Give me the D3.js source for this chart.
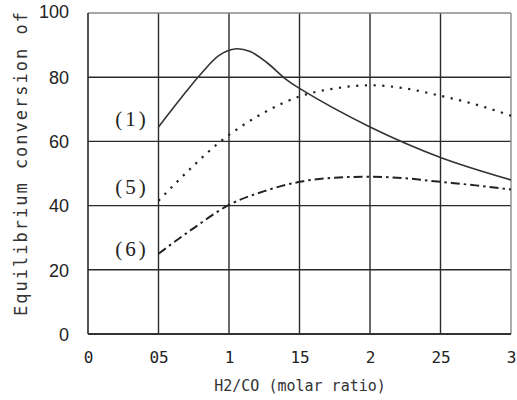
<!DOCTYPE html>
<html>
<head>
<meta charset="utf-8">
<script src="https://cdn.jsdelivr.net/npm/d3@7"></script>
<style>
  html, body { margin: 0; padding: 0; background: #fff; }
  svg { display: block; }
</style>
</head>
<body>
<svg id="chart" width="517" height="400"></svg>
<script>
// H2/CO molar ratio sampled along each curve
const ratio1 = [0.5, 0.66, 0.8, 0.93, 1.04, 1.15, 1.27, 1.4, 1.5, 2.0, 2.5, 3.0];
const conv1  = [64.5, 73.5, 81, 86.8, 88.8, 88, 84.5, 79.5, 76.5, 64.5, 55, 48];

const ratio5 = [0.5, 0.75, 0.94, 1.0, 1.25, 1.5, 1.75, 2.0, 2.25, 2.5, 2.75, 3.0];
const conv5  = [41.5, 52.5, 60, 62, 69, 74, 76.5, 77.5, 76.5, 74.2, 71.5, 68];

const ratio6 = [0.5, 0.75, 1.0, 1.25, 1.5, 1.75, 2.0, 2.25, 2.5, 2.75, 3.0];
const conv6  = [25, 33, 40.2, 44.5, 47.4, 48.7, 49, 48.5, 47.4, 46.3, 45];

const seriesNames = ["(1)", "(5)", "(6)"];
const labelConv = [67, 45.8, 26.5];
const xTicks = [0, 0.5, 1, 1.5, 2, 2.5, 3];
const xTickLabels = ["0", "05", "1", "15", "2", "25", "3"];
const yTicks = [0, 20, 40, 60, 80, 100];
const xTitle = "H2/CO (molar ratio)";
const yTitle = "Equilibrium conversion of";

const svg = d3.select("#chart");
const m = { left: 88, right: 511, top: 13, bottom: 334 };

const x = d3.scaleLinear().domain([0, 3]).range([m.left, m.right]);
const y = d3.scaleLinear().domain([0, 100]).range([m.bottom, m.top]);

// grid lines
const grid = svg.append("g");
grid.selectAll("line.v").data(xTicks.filter(d => d > 0 && d < 3)).join("line")
  .attr("x1", d => x(d)).attr("x2", d => x(d))
  .attr("y1", y(100)).attr("y2", y(0))
  .attr("stroke", "#2a2a2a").attr("stroke-width", 1.4);
grid.selectAll("line.h").data(yTicks.filter(d => d > 0 && d < 100)).join("line")
  .attr("x1", x(0)).attr("x2", x(3))
  .attr("y1", d => y(d)).attr("y2", d => y(d))
  .attr("stroke", "#2a2a2a").attr("stroke-width", 1.4);

// frame: dark left/bottom, lighter top/right
svg.append("line").attr("x1", x(0)).attr("x2", x(3)).attr("y1", y(100)).attr("y2", y(100))
  .attr("stroke", "#8a8a8a").attr("stroke-width", 1.4);
svg.append("line").attr("x1", x(3)).attr("x2", x(3)).attr("y1", y(100)).attr("y2", y(0))
  .attr("stroke", "#8a8a8a").attr("stroke-width", 1.4);
svg.append("line").attr("x1", x(0)).attr("x2", x(0)).attr("y1", y(100)).attr("y2", y(0))
  .attr("stroke", "#2a2a2a").attr("stroke-width", 1.6);
svg.append("line").attr("x1", x(0)).attr("x2", x(3)).attr("y1", y(0)).attr("y2", y(0))
  .attr("stroke", "#333").attr("stroke-width", 2.2);

// axes (labels only)
const xAxis = d3.axisBottom(x).tickValues(xTicks).tickSize(0)
  .tickFormat((d, i) => xTickLabels[i]);
const gx = svg.append("g").attr("transform", `translate(0,${y(0)})`).call(xAxis);
gx.select(".domain").remove();
gx.selectAll("text")
  .attr("dy", 0).attr("y", 29)
  .attr("font-family", "'DejaVu Sans Mono', monospace")
  .attr("font-size", 16).attr("fill", "#222");

const yAxis = d3.axisLeft(y).tickValues(yTicks).tickSize(0);
const gy = svg.append("g").attr("transform", `translate(${x(0)},0)`).call(yAxis);
gy.select(".domain").remove();
gy.selectAll("text")
  .attr("x", -19).attr("dy", "0.35em")
  .attr("font-family", "'Liberation Sans Narrow', 'Liberation Sans', sans-serif")
  .attr("font-size", 18).attr("fill", "#222")
  .attr("transform", d => d === 100 ? "translate(0,-2)" : null);

// axis titles
svg.append("text")
  .attr("x", 300).attr("y", 391)
  .attr("text-anchor", "middle")
  .attr("font-family", "'DejaVu Sans Mono', monospace")
  .attr("font-size", 15).attr("fill", "#333")
  .text(xTitle);

svg.append("text")
  .attr("transform", "translate(27,163) rotate(-90)")
  .attr("text-anchor", "middle")
  .attr("font-family", "'DejaVu Sans Mono', monospace")
  .attr("font-size", 17).attr("fill", "#333")
  .attr("letter-spacing", 2)
  .text(yTitle);

// curves
const zip = (a, b) => a.map((v, i) => [v, b[i]]);
const smooth = d3.line().x(d => x(d[0])).y(d => y(d[1])).curve(d3.curveCatmullRom.alpha(0.5));
const mono = d3.line().x(d => x(d[0])).y(d => y(d[1])).curve(d3.curveMonotoneX);

svg.append("path").datum(zip(ratio1, conv1)).attr("d", smooth)
  .attr("fill", "none").attr("stroke", "#333").attr("stroke-width", 1.6);
svg.append("path").datum(zip(ratio5, conv5)).attr("d", mono)
  .attr("fill", "none").attr("stroke", "#222").attr("stroke-width", 2.2)
  .attr("stroke-linecap", "butt").attr("stroke-dasharray", "2.2,6.5");
svg.append("path").datum(zip(ratio6, conv6)).attr("d", mono)
  .attr("fill", "none").attr("stroke", "#222").attr("stroke-width", 2)
  .attr("stroke-dasharray", "9,4,2.5,4");

// series labels
svg.selectAll("text.series").data(seriesNames).join("text")
  .attr("class", "series")
  .attr("x", 132).attr("y", (d, i) => y(labelConv[i]))
  .attr("dy", "0.35em")
  .attr("text-anchor", "middle")
  .attr("font-family", "'Liberation Serif', 'DejaVu Serif', serif")
  .attr("font-size", 21).attr("fill", "#222")
  .attr("letter-spacing", 3)
  .text(d => d);
</script>
</body>
</html>
